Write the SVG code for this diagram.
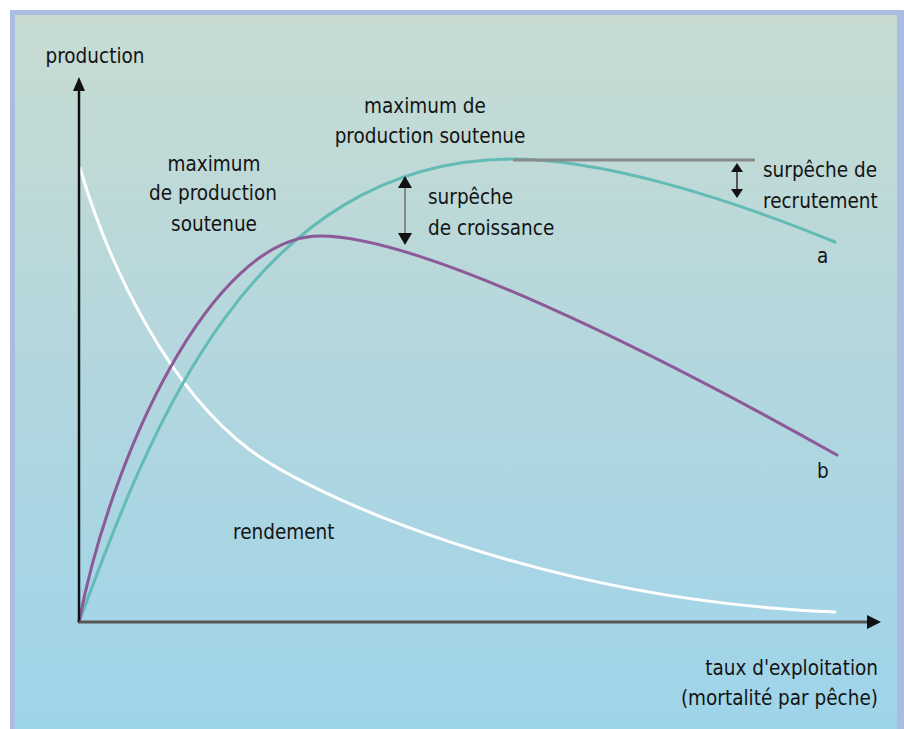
<svg xmlns="http://www.w3.org/2000/svg" width="904" height="729" viewBox="0 0 904 729">
  <style>
    .t { font-family: "DejaVu Sans Condensed", "DejaVu Sans", sans-serif; font-stretch: condensed; font-size: 20.5px; fill: #141414; }
    .m { text-anchor: middle; }
    .e { text-anchor: end; }
    .curve { fill: none; stroke-width: 3; stroke-linecap: round; }
  </style>
  <defs>
    <linearGradient id="bg" x1="0" y1="0" x2="0" y2="1">
      <stop offset="0" stop-color="#c8dcd2"/>
      <stop offset="0.45" stop-color="#b5d7dd"/>
      <stop offset="1" stop-color="#9ed4ea"/>
    </linearGradient>
  </defs>

  <rect x="0" y="0" width="904" height="729" fill="#ffffff"/>
  <rect x="10" y="10" width="894" height="719" fill="#aabcdf"/>
  <rect x="15" y="15" width="882" height="714" fill="url(#bg)"/>

  <g id="curves">
    <path id="rendement-curve" class="curve" stroke="#ffffff"
      d="M80,168 C110,270 170,390 250,450 C310,495 540,600 835,612"/>
    <path id="curve-a" class="curve" stroke="#62bbb5"
      d="M79,622 C150,430 250,162 510,159 C600,159 720,195 835,242"/>
    <path id="curve-b" class="curve" stroke="#8c5a98"
      d="M79,622 C110,460 210,236 320,236 C420,236 650,350 837,455"/>
  </g>

  <g id="axes">
    <line x1="79" y1="622" x2="79" y2="88" stroke="#111" stroke-width="2.5"/>
    <polygon points="79,77 73,91 85,91" fill="#111"/>
    <line x1="79" y1="622" x2="868" y2="622" stroke="#555" stroke-width="3"/>
    <polygon points="881,622 867,615 867,629" fill="#111"/>
  </g>

  <g id="markers">
    <line x1="513" y1="160" x2="755" y2="160" stroke="#8a8a8a" stroke-width="3"/>
    <line x1="405" y1="186" x2="405" y2="236" stroke="#888" stroke-width="2"/>
    <polygon points="405,176 398,188 412,188" fill="#111"/>
    <polygon points="405,245 398,233 412,233" fill="#111"/>
    <line x1="737" y1="170" x2="737" y2="191" stroke="#555" stroke-width="2"/>
    <polygon points="737,163 731,172 743,172" fill="#111"/>
    <polygon points="737,198 731,189 743,189" fill="#111"/>
  </g>

  <g id="labels">
    <text class="t m" x="95" y="63">production</text>
    <text class="t m" x="214" y="171">maximum</text>
    <text class="t m" x="213" y="200">de production</text>
    <text class="t m" x="214" y="231">soutenue</text>
    <text class="t m" x="425" y="113">maximum de</text>
    <text class="t m" x="430" y="143">production soutenue</text>
    <text class="t" x="428" y="204">surpêche</text>
    <text class="t" x="428" y="235">de croissance</text>
    <text class="t" x="763" y="177">surpêche de</text>
    <text class="t" x="763" y="208">recrutement</text>
    <text class="t" x="817" y="263">a</text>
    <text class="t" x="817" y="478">b</text>
    <text class="t" x="233" y="539">rendement</text>
    <text class="t e" x="878" y="675">taux d'exploitation</text>
    <text class="t e" x="878" y="705">(mortalité par pêche)</text>
  </g>
</svg>
